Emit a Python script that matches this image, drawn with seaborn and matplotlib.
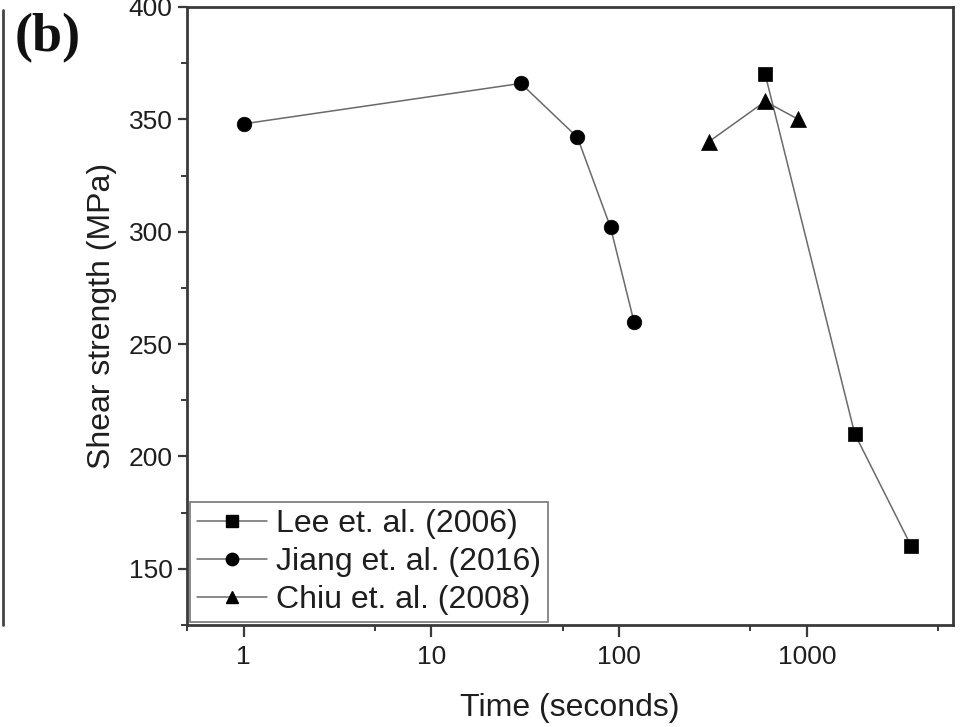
import numpy as np
import pandas as pd
import matplotlib
matplotlib.use("Agg")
import matplotlib.pyplot as plt
from matplotlib.ticker import FixedLocator, NullFormatter, MultipleLocator
from matplotlib.lines import Line2D
import seaborn as sns

# Shear strength vs. bonding time for three studies
lee_time = [600, 1800, 3600]
lee_strength = [370, 210, 160]

jiang_time = [1, 30, 60, 90, 120]
jiang_strength = [348, 366, 342, 302, 260]

chiu_time = [300, 600, 900]
chiu_strength = [340, 358, 350]

series_labels = ["Lee et. al. (2006)", "Jiang et. al. (2016)", "Chiu et. al. (2008)"]
series_markers = ["s", "o", "^"]
x_tick_values = [1, 10, 100, 1000]
x_tick_labels = ["1", "10", "100", "1000"]
y_tick_values = [150, 200, 250, 300, 350, 400]

sns.set_theme(style="ticks")
plt.rcParams["font.family"] = ["Liberation Sans", "DejaVu Sans"]

frames = []
for lab, t, s in zip(series_labels,
                     [lee_time, jiang_time, chiu_time],
                     [lee_strength, jiang_strength, chiu_strength]):
    frames.append(pd.DataFrame({"time": t, "strength": s, "study": lab}))
df = pd.concat(frames, ignore_index=True)

fig = plt.figure(figsize=(9.61, 7.27), dpi=100)
ax = fig.add_axes([187 / 961, 1 - 625 / 727, (953 - 187) / 961, (625 - 7) / 727])

line_color = "#6a6a6a"
text_color = "#1e1e1e"
marker_sizes = {"s": 9.5, "o": 10.5, "^": 11}
for lab, mk in zip(series_labels, series_markers):
    sub = df[df["study"] == lab]
    sns.lineplot(data=sub, x="time", y="strength", ax=ax, sort=False,
                 color=line_color, linewidth=1.1, marker=mk,
                 markersize=marker_sizes[mk], markerfacecolor="black",
                 markeredgecolor="black", markeredgewidth=0.5,
                 estimator=None, legend=False)

ax.set_xscale("log")
ax.set_xlim(0.5, 6000)
ax.set_ylim(125, 400)

ax.xaxis.set_major_locator(FixedLocator(x_tick_values))
ax.set_xticklabels(x_tick_labels)
ax.xaxis.set_minor_locator(FixedLocator([0.5, 5, 50, 500, 5000]))
ax.xaxis.set_minor_formatter(NullFormatter())
ax.set_yticks(y_tick_values)
ax.yaxis.set_minor_locator(MultipleLocator(25))

spine_color = "#3a3a3a"
for sp in ax.spines.values():
    sp.set_visible(True)
    sp.set_color(spine_color)
    sp.set_linewidth(2.0)

ax.tick_params(axis="y", which="major", direction="out", length=6.5, width=1.6,
               color=spine_color, labelsize=19, labelcolor=text_color, pad=4,
               right=False)
ax.tick_params(axis="x", which="major", direction="out", length=8.5, width=1.6,
               color=spine_color, labelsize=19, labelcolor=text_color, pad=6,
               top=False)
ax.tick_params(axis="both", which="minor", direction="out", length=4, width=1.4,
               color=spine_color, top=False, right=False)

ax.set_xlabel("Time (seconds)", fontsize=23, color=text_color, labelpad=17)
ax.set_ylabel("Shear strength (MPa)", fontsize=23, color=text_color, labelpad=8)

handles = [Line2D([], [], color=line_color, linewidth=1.1, marker=mk,
                  markersize=marker_sizes[mk] * 0.85, markerfacecolor="black",
                  markeredgecolor="black")
           for mk in series_markers]
leg = ax.legend(handles, series_labels, loc="lower left", fontsize=23,
                frameon=True, fancybox=False, edgecolor="#555555",
                borderaxespad=0.1, handlelength=2.2, handletextpad=0.3,
                labelspacing=0.26, borderpad=0.2)
leg.get_frame().set_linewidth(1.2)
for txt in leg.get_texts():
    txt.set_color(text_color)

# panel label and edge of the neighbouring panel
fig.text(15 / 961, 1 - 38 / 727, "(b)", fontsize=39, fontweight="bold",
         family=["Liberation Serif", "DejaVu Serif"], va="center", ha="left",
         color="#111111")
fig.add_artist(Line2D([3 / 961, 3 / 961], [1 - 625 / 727, 1 - 10 / 727],
                      color="#444444", linewidth=2.0))

fig.savefig("out.png", dpi=100)
